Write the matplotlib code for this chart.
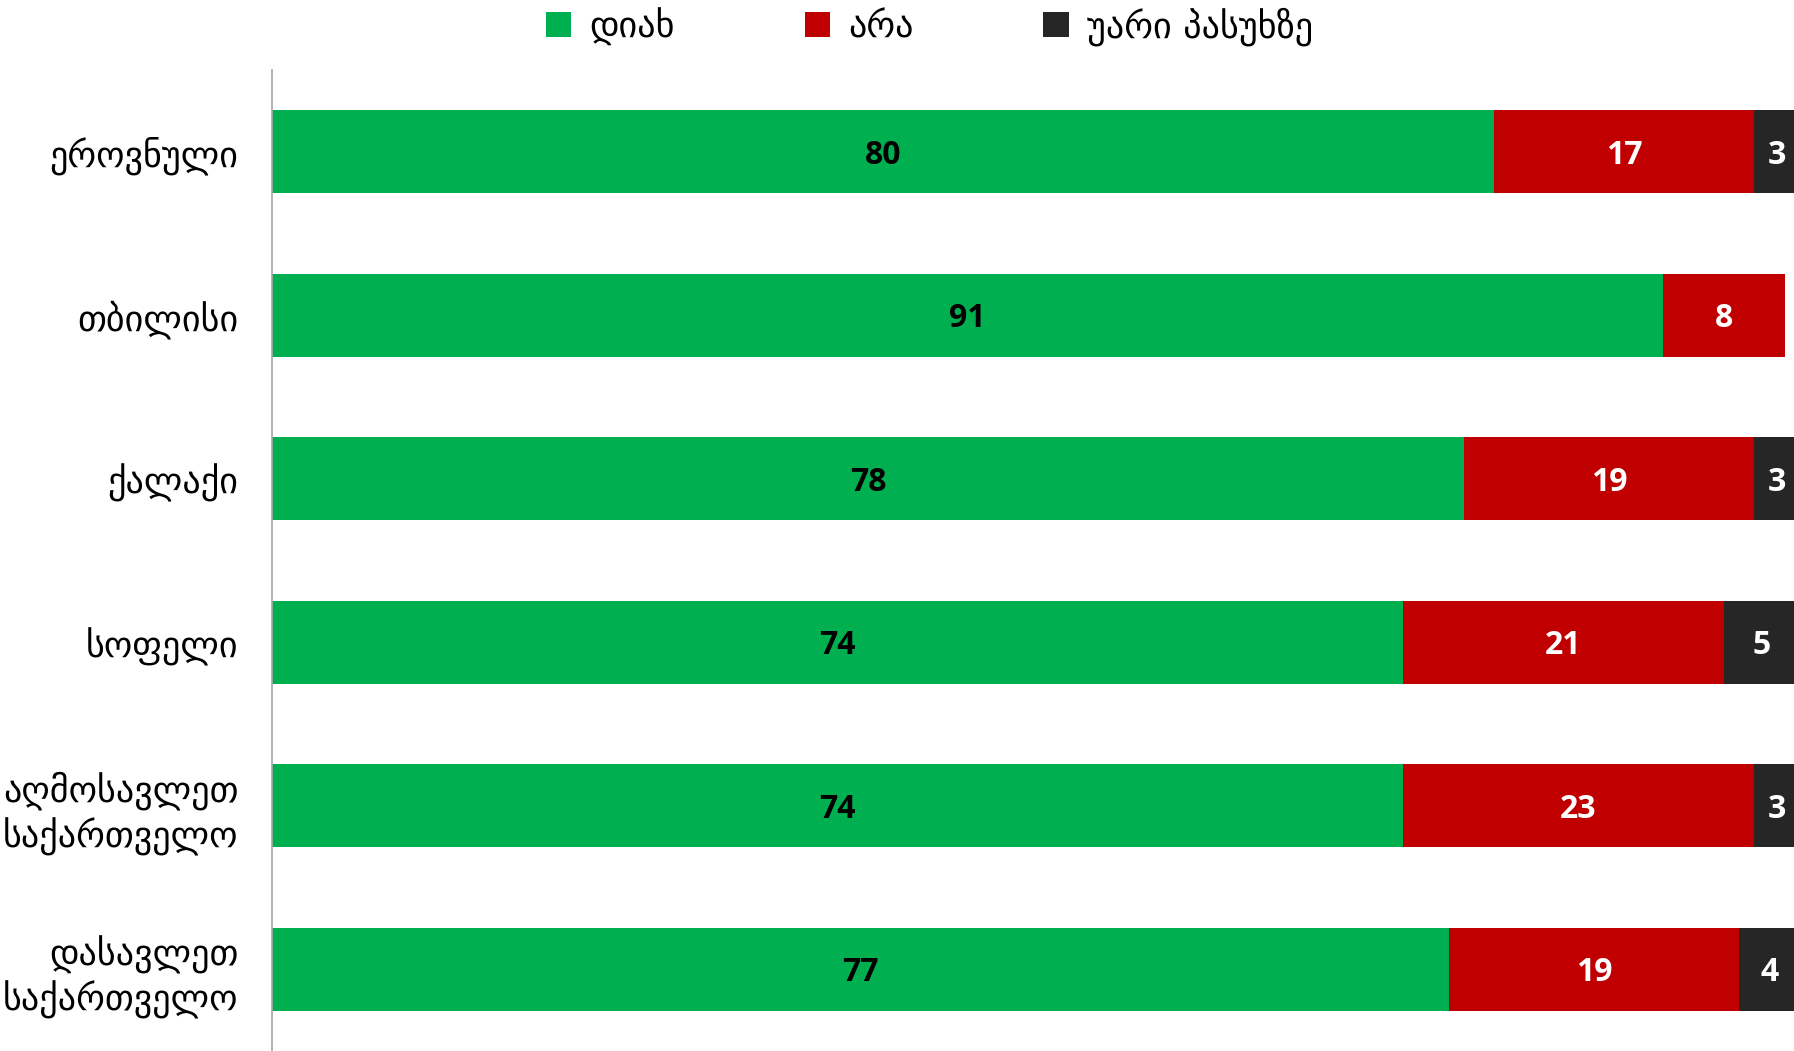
import matplotlib

matplotlib.use("Agg")
import matplotlib.pyplot as plt
import numpy as np

# კატეგორიები და პასუხების წილი (%)
CATEGORIES = [
    "ეროვნული",
    "თბილისი",
    "ქალაქი",
    "სოფელი",
    "აღმოსავლეთ\nსაქართველო",
    "დასავლეთ\nსაქართველო",
]
YES = [80, 91, 78, 74, 74, 77]
NO = [17, 8, 19, 21, 23, 19]
REFUSED = [3, 0, 3, 5, 3, 4]

SERIES = ["დიახ", "არა", "უარი პასუხზე"]
COLORS = ["#00B050", "#C00000", "#262626"]
TEXT_COLORS = ["black", "white", "white"]

fig = plt.figure(figsize=(17.94, 10.51), dpi=100)
ax = fig.add_axes([0.1516, 0.0, 0.8484, 0.9334])

y = np.arange(len(CATEGORIES))
left = np.zeros(len(CATEGORIES))
for name, vals, color, tcol in zip(SERIES, [YES, NO, REFUSED], COLORS, TEXT_COLORS):
    vals = np.array(vals, dtype=float)
    ax.barh(y, vals, left=left, height=0.51, color=color, label=name)
    for yi, l, v in zip(y, left, vals):
        if v > 0:
            ax.text(l + v / 2, yi + 0.02, f"{v:.0f}", ha="center", va="center",
                    color=tcol, fontsize=23, fontweight="bold", family="Open Sans")
    left += vals

ax.set_xlim(0, 99.6)
ax.set_ylim(len(CATEGORIES) - 0.5, -0.5)
ax.set_yticks(y)
ax.set_yticklabels(CATEGORIES, fontsize=26, family="DejaVu Sans", linespacing=1.25)
ax.tick_params(axis="y", length=0, pad=24)
ax.set_xticks([])
for side in ["top", "right", "bottom"]:
    ax.spines[side].set_visible(False)
ax.spines["left"].set_color("#a6a6a6")
ax.spines["left"].set_linewidth(1.2)

fig.legend(loc="upper center", bbox_to_anchor=(0.518, 1.024), ncol=3, frameon=False,
           fontsize=26, handlelength=0.7, handleheight=0.7, handletextpad=0.5,
           columnspacing=3.6)

fig.savefig("out.png", dpi=100)
